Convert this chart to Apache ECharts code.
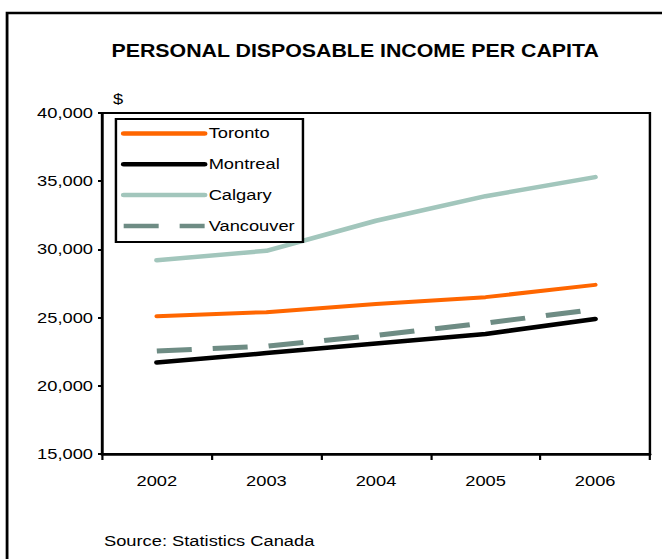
<!DOCTYPE html>
<html>
<head>
<meta charset="utf-8">
<script src="https://cdn.jsdelivr.net/npm/echarts@6/dist/echarts.min.js"></script>
<style>
  html, body { margin: 0; padding: 0; background: #fff; overflow: hidden; }
  /* the figure is laid out on a narrower canvas and widened to 662px */
  #chart { width: 543px; height: 559px; transform: scaleX(1.21915); transform-origin: 0 0; }
</style>
</head>
<body>
<div id="chart"></div>
<script>
// Personal disposable income per capita, selected Canadian cities ($)
const years = ['2002', '2003', '2004', '2005', '2006'];
const toronto = [25100, 25400, 26000, 26500, 27400];
const montreal = [21700, 22400, 23100, 23800, 24900];
const calgary = [29200, 29900, 32100, 33900, 35300];
const vancouver = [22550, 22900, 23700, 24600, 25600];

const FONT = '"Liberation Sans", Arial, sans-serif';

const chart = echarts.init(document.getElementById('chart'), null, { renderer: 'svg' });

chart.setOption({
  animation: false,
  backgroundColor: '#fff',
  title: {
    text: 'PERSONAL DISPOSABLE INCOME PER CAPITA',
    left: 286.3,
    textAlign: 'center',
    top: 37,
    textStyle: { fontFamily: FONT, fontSize: 17.5, fontWeight: 'bold', color: '#000' }
  },
  grid: {
    left: 83.7, right: 9.9, top: 113, bottom: 105,
    show: true, borderColor: '#000', borderWidth: 2, backgroundColor: 'transparent'
  },
  legend: {
    orient: 'vertical',
    left: 99.2, top: 126,
    itemWidth: 66.4, itemHeight: 14, itemGap: 15.8,
    padding: 0,
    itemStyle: { opacity: 0, color: 'transparent', borderColor: 'transparent' },
    lineStyle: { width: 4.5 },
    textStyle: { fontFamily: FONT, fontSize: 15, color: '#000', padding: [0, 0, 0, -1.7] },
    data: ['Toronto', 'Montreal', 'Calgary', 'Vancouver'],
    z: 10
  },
  xAxis: {
    type: 'category',
    data: years,
    boundaryGap: true,
    axisLine: { lineStyle: { color: '#000', width: 2.5 } },
    axisTick: { show: true, length: 6, lineStyle: { color: '#000', width: 1.8 } },
    axisLabel: { fontFamily: FONT, fontSize: 15, color: '#000', margin: 20 },
    splitLine: { show: false }
  },
  yAxis: {
    type: 'value',
    min: 15000, max: 40000, interval: 5000,
    axisLine: { show: true, lineStyle: { color: '#000', width: 2 } },
    axisTick: { show: true, length: 3.3, lineStyle: { color: '#000', width: 2 } },
    axisLabel: {
      fontFamily: FONT, fontSize: 15, color: '#000', margin: 7.4,
      formatter: v => v.toLocaleString('en-US')
    },
    splitLine: { show: false }
  },
  graphic: [
    {
      type: 'rect', z: 0, silent: true,
      shape: { x: 5.8, y: 13, width: 620, height: 620 },
      style: { fill: 'none', stroke: '#000', lineWidth: 2.3 }
    },
    {
      type: 'rect', z: 9, silent: true,
      shape: { x: 95.1, y: 119, width: 153.4, height: 123 },
      style: { fill: '#fff', stroke: '#000', lineWidth: 2 }
    },
    {
      type: 'text', z: 5, silent: true, left: 92.7, top: 92,
      style: { text: '$', fontFamily: FONT, fontSize: 15, fill: '#000' }
    },
    {
      type: 'text', z: 5, silent: true, left: 85.3, top: 534,
      style: { text: 'Source: Statistics Canada', fontFamily: FONT, fontSize: 15, fill: '#000' }
    }
  ],
  series: [
    {
      name: 'Toronto', type: 'line', data: toronto, symbol: 'none', z: 3,
      itemStyle: { color: '#FF6600' },
      lineStyle: { color: '#FF6600', width: 4, cap: 'round', join: 'round' }
    },
    {
      name: 'Montreal', type: 'line', data: montreal, symbol: 'none', z: 3,
      itemStyle: { color: '#000' },
      lineStyle: { color: '#000', width: 4.5, cap: 'round', join: 'round' }
    },
    {
      name: 'Calgary', type: 'line', data: calgary, symbol: 'none', z: 3,
      itemStyle: { color: '#A2C6BC' },
      lineStyle: { color: '#A2C6BC', width: 4.5, cap: 'round', join: 'round' }
    },
    {
      name: 'Vancouver', type: 'line', data: vancouver, symbol: 'none', z: 3,
      itemStyle: { color: '#6E8C84' },
      lineStyle: { color: '#6E8C84', width: 5, type: [28.7, 17.2], cap: 'butt' }
    }
  ]
});
</script>
</body>
</html>
